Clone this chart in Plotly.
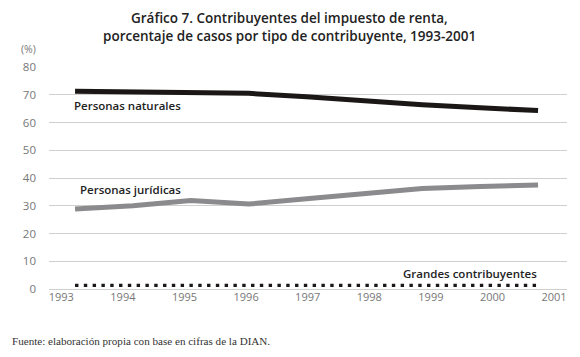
import plotly.graph_objects as go

years = [1993, 1994, 1995, 1996, 1997, 1998, 1999, 2000, 2001]
naturales = [71.3, 71.1, 70.9, 70.5, 69.3, 67.7, 66.4, 65.3, 64.3]
juridicas = [28.8, 30.0, 31.9, 30.6, 32.5, 34.4, 36.2, 36.9, 37.5]
grandes = [1.3, 1.3, 1.3, 1.3, 1.3, 1.3, 1.3, 1.3, 1.3]
tick_years = [1993, 1994, 1995, 1996, 1997, 1998, 1999, 2000, 2001]
y_ticks = [0, 10, 20, 30, 40, 50, 60, 70, 80]

title_1 = "Gráfico 7. Contribuyentes del impuesto de renta,"
title_2 = "porcentaje de casos por tipo de contribuyente, 1993-2001"

font_main = "Open Sans, Noto Sans, sans-serif"

fig = go.Figure()
# empty trace to keep the labelled year axis drawn
fig.add_trace(go.Scatter(x=[], y=[], xaxis="x", yaxis="y", showlegend=False, hoverinfo="skip"))
fig.add_trace(go.Scatter(x=years, y=naturales, mode="lines", xaxis="x2",
                         line=dict(color="#1c1717", width=5), showlegend=False))
fig.add_trace(go.Scatter(x=years, y=juridicas, mode="lines", xaxis="x2",
                         line=dict(color="#8b8b8e", width=5), showlegend=False))
fig.add_trace(go.Scatter(x=years, y=grandes, mode="lines", xaxis="x2",
                         line=dict(color="#1c1717", width=3.4, dash="3.4px,5.4px"),
                         showlegend=False))

lab_font = dict(family=font_main, size=11.5, color="#222222", weight=600)

fig.update_layout(
    width=572, height=349,
    margin=dict(l=41, r=13, t=58.5, b=68),
    paper_bgcolor="white", plot_bgcolor="white",
    xaxis=dict(range=[1992.8, 2001.21], tickmode="array", tickvals=tick_years,
               ticktext=[str(t) for t in tick_years], showgrid=False, zeroline=False,
               showline=False, ticks="", automargin=False,
               tickfont=dict(family=font_main, size=11, color="#777777"),
               fixedrange=True),
    xaxis2=dict(range=[1992.55, 2001.5], overlaying="x", visible=False, fixedrange=True,
                automargin=False),
    yaxis=dict(range=[0, 80], tickmode="array", tickvals=y_ticks,
               showgrid=True, gridcolor="#cfcfcf", gridwidth=1, zeroline=True,
               zerolinecolor="#cfcfcf", zerolinewidth=1,
               showline=False, ticks="", ticklabelstandoff=12, automargin=False,
               tickfont=dict(family=font_main, size=11.5, color="#777777"), fixedrange=True),
    annotations=[
        dict(text=title_1, xref="paper", yref="paper", x=0.465, y=1.2225, xanchor="center",
             yanchor="middle", showarrow=False,
             font=dict(family=font_main, size=13.5, color="#222222", weight=600)),
        dict(text=title_2, xref="paper", yref="paper", x=0.465, y=1.1416, xanchor="center",
             yanchor="middle", showarrow=False,
             font=dict(family=font_main, size=13.5, color="#222222", weight=600)),
        dict(text="(%)", xref="paper", yref="paper", x=-0.058, y=1.083, xanchor="left", yanchor="middle",
             showarrow=False, font=dict(family=font_main, size=10.5, color="#777777")),
        dict(text="Personas naturales", xref="x2", yref="y", x=1992.95, y=66.3, xanchor="left",
             yanchor="middle", showarrow=False, font=lab_font),
        dict(text="Personas jurídicas", xref="x2", yref="y", x=1993.05, y=35.9, xanchor="left",
             yanchor="middle", showarrow=False, font=lab_font),
        dict(text="Grandes contribuyentes", xref="x2", yref="y", x=2001.02, y=5.6, xanchor="right",
             yanchor="middle", showarrow=False, font=lab_font),
        dict(text="Fuente: elaboración propia con base en cifras de la DIAN.", xref="paper", yref="paper",
             x=-0.0753, y=-0.236, xanchor="left", yanchor="middle", showarrow=False,
             font=dict(family="Liberation Serif, serif", size=11.1, color="#333333")),
    ],
)

fig.write_html("out.html")
